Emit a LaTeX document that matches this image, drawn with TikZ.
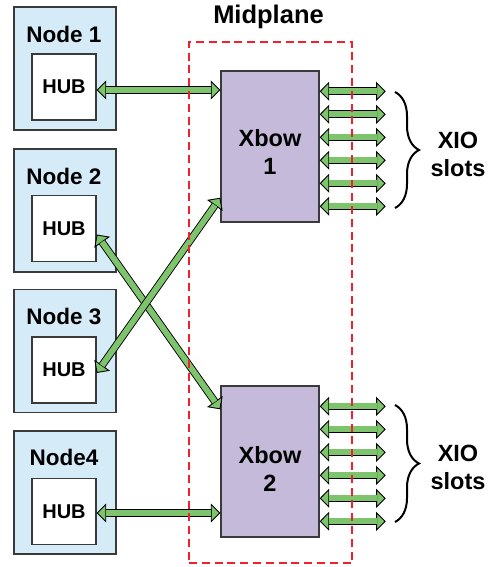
\documentclass[tikz,border=0pt]{standalone}
\usepackage{fontspec}
\setmainfont{Liberation Sans}
\usetikzlibrary{arrows.meta,decorations.pathreplacing,calc}
\definecolor{nodeblue}{HTML}{D5EBF8}
\definecolor{xbowpurple}{HTML}{C6BADB}
\definecolor{arrgreen}{HTML}{7EC46C}
\definecolor{midred}{HTML}{F0202E}
\definecolor{edgegray}{HTML}{3A3A3A}
\tikzset{
  nodebox/.style={draw=edgegray, line width=1.4pt, fill=nodeblue, minimum width=102pt, minimum height=123pt, inner sep=0pt},
  hubbox/.style={draw=edgegray, line width=1.4pt, fill=white, minimum width=64pt, minimum height=66pt, inner sep=0pt, font=\fontsize{20}{24}\selectfont\bfseries},
  nodelabel/.style={font=\fontsize{22.5}{27}\selectfont\bfseries, inner sep=0pt},
  xbowbox/.style={draw=edgegray, line width=1.4pt, fill=xbowpurple, minimum width=98pt, minimum height=151pt, inner sep=0pt},
  biglabel/.style={font=\fontsize{23.5}{28}\selectfont\bfseries, align=center, inner sep=0pt},
  midbox/.style={draw=midred, line width=2.4pt, dash pattern=on 8pt off 4.8pt, minimum width=163pt, minimum height=521pt, inner sep=0pt},
  xiobrace/.style={decorate, decoration={brace, amplitude=24pt, aspect=0.5}, line width=2pt, draw=black},
  biarrow/.style={
    preaction={draw=black, -, line width=7.6pt, shorten <=8.5pt, shorten >=8.5pt},
    postaction={draw=arrgreen, -, line width=5.8pt, shorten <=9.2pt, shorten >=9.2pt},
    draw=black, line width=0.9pt,
    {Triangle[length=9.5pt, width=19pt, fill=arrgreen]}-{Triangle[length=9.5pt, width=19pt, fill=arrgreen]}
  },
}
\begin{document}
\begin{tikzpicture}[x=1pt, y=-1pt]
\useasboundingbox (0,0) rectangle (496,567);
% compute nodes
\node[nodebox] (n1) at (65,68.5) {};
\node[nodebox] (n2) at (65,210.5) {};
\node[nodebox] (n3) at (65,351) {};
\node[nodebox] (n4) at (65,492.5) {};
\node[nodelabel] (n1t) at (64,34) {Node 1};
\node[nodelabel] (n2t) at (64,176) {Node 2};
\node[nodelabel] (n3t) at (64,316) {Node 3};
\node[nodelabel] (n4t) at (64,457) {Node4};
\node[hubbox] (hub1) at (64,87) {HUB};
\node[hubbox] (hub2) at (64,228.5) {HUB};
\node[hubbox] (hub3) at (64,370) {HUB};
\node[hubbox] (hub4) at (64,511.5) {HUB};
% crossbars
\node[xbowbox] (xbow1) at (270,146.5) {};
\node[xbowbox] (xbow2) at (270,461.5) {};
\node[biglabel] (x1t) at (270,152) {Xbow\\1};
\node[biglabel] (x2t) at (270,469) {Xbow\\2};
% hub links
\coordinate (a1) at ([yshift=-3pt]hub1.east);
\coordinate (a4) at ([yshift=-1.5pt]hub4.east);
\draw[biarrow] (a1) -- (a1 -| xbow1.west);
\draw[biarrow] (a4) -- (a4 -| xbow2.west);
\draw[biarrow] ([yshift=-6pt]hub2.east) -- ([yshift=-24pt]xbow2.north west);
\draw[biarrow] ([yshift=-3pt]hub3.east) -- ([yshift=25pt]xbow1.south west);
% XIO slot links
\foreach \k [evaluate=\k as \off using 21+23*\k] in {0,...,5} {
  \coordinate (sa\k) at ([xshift=66pt, yshift=-\off pt]xbow1.north east);
  \draw[biarrow] ([yshift=-\off pt]xbow1.north east) -- (sa\k);
  \coordinate (sb\k) at ([xshift=66pt, yshift=-\off pt]xbow2.north east);
  \draw[biarrow] ([yshift=-\off pt]xbow2.north east) -- (sb\k);
}
% midplane
\node[midbox] (mid) at (270.5,302.5) {};
\node[font=\fontsize{25.5}{30}\selectfont\bfseries, inner sep=0pt] (midt) at (268.5,17) {Midplane};
% braces
\coordinate (b1t) at (395,92);
\coordinate (b1b) at (395,208);
\coordinate (b2t) at (395,405);
\coordinate (b2b) at (395,522);
\draw[xiobrace] (b1t) -- (b1b);
\draw[xiobrace] (b2t) -- (b2b);
\node[biglabel] (xio1) at (458,154) {XIO\\slots};
\node[biglabel] (xio2) at (458,467) {XIO\\slots};
\end{tikzpicture}
\end{document}
